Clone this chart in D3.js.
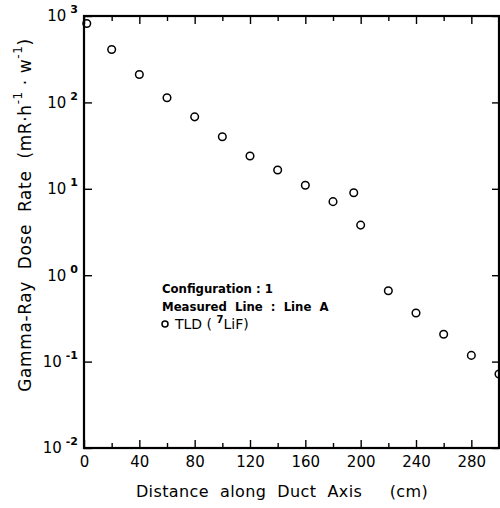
<!DOCTYPE html>
<html>
<head>
<meta charset="utf-8">
<script src="https://cdn.jsdelivr.net/npm/d3@7"></script>
<style>
  body { margin: 0; background: #fff; }
  svg { display: block; }
  .axis path { display: none; }
  .axis line { stroke: #000; stroke-width: 1.4; }
  .axis text { font-family: "DejaVu Sans", sans-serif; font-size: 15px; fill: #000; }
</style>
</head>
<body>
<svg id="chart" width="500" height="508"></svg>
<script>
// data (configuration 1, line A, TLD 7LiF)
const distances = [2, 20, 40, 60, 80, 100, 120, 140, 160, 180, 195, 200, 220, 240, 260, 280, 300];
const doseRates = [820, 410, 210, 113, 68, 40, 24, 16.5, 11, 7.1, 9.0, 3.8, 0.66, 0.365, 0.207, 0.118, 0.072];
const xMajorTicks = [0, 40, 80, 120, 160, 200, 240, 280];
const xMinorTicks = [20, 60, 100, 140, 180, 220, 260, 300];
const yDecades = [-2, -1, 0, 1, 2, 3];
const legendLines = ["Configuration : 1", "Measured  Line  :  Line  A"];

const svg = d3.select("#chart");
const margin = {top: 16, right: 1, bottom: 60, left: 84};
const width = 500 - margin.left - margin.right;
const height = 508 - margin.top - margin.bottom;

const g = svg.append("g")
    .attr("transform", "translate(" + margin.left + "," + margin.top + ")");

const x = d3.scaleLinear().domain([0, 300]).range([0, width]);
const y = d3.scaleLog().domain([1e-2, 1e3]).range([height, 0]);

// bottom axis with labels, ticks pointing inward
g.append("g")
    .attr("class", "axis")
    .attr("transform", "translate(0," + height + ")")
    .call(d3.axisBottom(x).tickValues(xMajorTicks).tickSize(-8).tickPadding(8));

g.append("g")
    .attr("class", "axis")
    .attr("transform", "translate(0," + height + ")")
    .call(d3.axisBottom(x).tickValues(xMinorTicks).tickSize(-5).tickFormat(""));

// top axis, ticks only
g.append("g")
    .attr("class", "axis")
    .call(d3.axisTop(x).tickValues(xMajorTicks).tickSize(-8).tickFormat(""));

g.append("g")
    .attr("class", "axis")
    .call(d3.axisTop(x).tickValues(xMinorTicks).tickSize(-5).tickFormat(""));

// left axis with 10^n labels
const yLeft = g.append("g")
    .attr("class", "axis")
    .call(d3.axisLeft(y).tickValues(yDecades.map(p => Math.pow(10, p))).tickSize(-8).tickPadding(6));

yLeft.selectAll(".tick text")
    .attr("x", -6)
    .each(function (d) {
        let t = d3.select(this);
        let p = Math.round(Math.log10(d));
        t.text(null);
        t.append("tspan").text("10");
        t.append("tspan")
            .attr("dy", "-8")
            .attr("dx", "4")
            .style("font-size", "11px")
            .style("font-weight", "bold")
            .text(p);
    });

// right axis, ticks only
g.append("g")
    .attr("class", "axis")
    .attr("transform", "translate(" + width + ",0)")
    .call(d3.axisRight(y).tickValues(yDecades.map(p => Math.pow(10, p))).tickSize(-7).tickFormat(""));

// frame
g.append("rect")
    .attr("x", 0)
    .attr("y", 0)
    .attr("width", width)
    .attr("height", height)
    .attr("fill", "none")
    .attr("stroke", "#000")
    .attr("stroke-width", 2.2);

// data points
g.selectAll(".dot")
    .data(distances.map((d, i) => [d, doseRates[i]]))
    .enter()
    .append("circle")
    .attr("class", "dot")
    .attr("cx", d => x(d[0]))
    .attr("cy", d => y(d[1]))
    .attr("r", 3.8)
    .attr("fill", "none")
    .attr("stroke", "#000")
    .attr("stroke-width", 1.5);

// legend
const legend = g.append("g")
    .attr("transform", "translate(" + (162 - margin.left) + "," + (293 - margin.top) + ")")
    .style("font-family", "'DejaVu Sans Condensed', 'DejaVu Sans', sans-serif")
    .style("font-size", "13px")
    .style("font-weight", "bold");

legend.selectAll(".legline")
    .data(legendLines)
    .enter()
    .append("text")
    .attr("class", "legline")
    .attr("xml:space", "preserve")
    .attr("y", (d, i) => i * 18)
    .text(d => d);

legend.append("circle")
    .attr("cx", 3)
    .attr("cy", 36 - 5)
    .attr("r", 3)
    .attr("fill", "none")
    .attr("stroke", "#000")
    .attr("stroke-width", 1.5);

const tld = legend.append("text")
    .attr("x", 13)
    .attr("y", 36)
    .attr("xml:space", "preserve")
    .style("font-weight", "normal")
    .style("font-family", "'DejaVu Sans', sans-serif")
    .style("font-size", "14px");
tld.append("tspan").text("TLD ( ");
tld.append("tspan").attr("dy", "-6").style("font-size", "10px").style("font-weight", "bold").text("7");
tld.append("tspan").attr("dy", "6").text("LiF)");

// axis titles
svg.append("text")
    .attr("x", 282)
    .attr("y", 497)
    .attr("text-anchor", "middle")
    .attr("xml:space", "preserve")
    .style("font-family", "'DejaVu Sans', sans-serif")
    .style("font-size", "16px")
    .style("letter-spacing", "0.4px")
    .text("Distance  along  Duct  Axis     (cm)");

const yTitle = svg.append("text")
    .attr("transform", "translate(31,215) rotate(-90)")
    .attr("text-anchor", "middle")
    .attr("xml:space", "preserve")
    .style("font-family", "'DejaVu Sans', sans-serif")
    .style("font-size", "17px")
    .style("letter-spacing", "0.6px");
yTitle.append("tspan").text("Gamma-Ray  Dose  Rate  (mR\u00b7h");
yTitle.append("tspan").attr("dy", "-9").style("font-size", "12px").text("-1");
yTitle.append("tspan").attr("dy", "9").text(" \u00b7 w");
yTitle.append("tspan").attr("dy", "-9").style("font-size", "12px").text("-1");
yTitle.append("tspan").attr("dy", "9").text(")");
</script>
</body>
</html>
